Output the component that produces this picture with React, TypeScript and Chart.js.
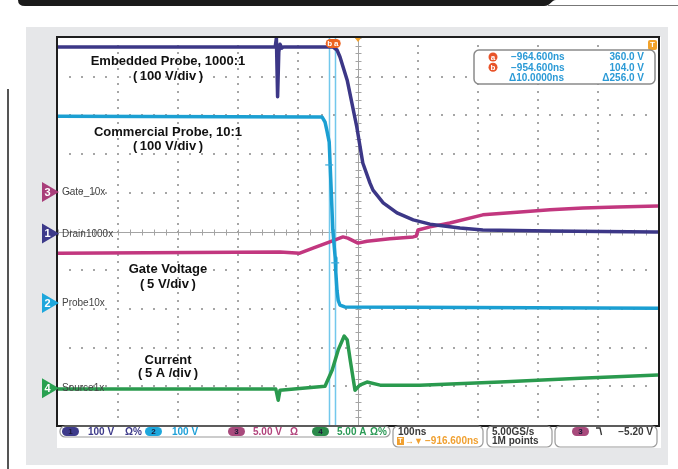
import React, { useEffect, useRef } from "react";
import { Chart, registerables } from "chart.js";
Chart.register(...registerables);

// ---- horizontal / cursor settings (ns) ----
const H_POS_NS = -916.6;
const HALF_SPAN_NS = 500; // 100 ns/div, 10 divisions
const CURSOR_A_NS = -964.6;
const CURSOR_B_NS = -954.6;

// ---- traces: time from screen centre (ns), level in divisions from centre ----
const drainT = [-500, -138, -136, -134, -132, -130, -127, -124, -42, -35, -30, -18, -2, 8, 20, 25, 42, 65, 92, 120, 170, 208, 320, 495, 500];
const drainY = [4.77, 4.77, 5.0, 3.48, 4.64, 4.84, 4.74, 4.77, 4.77, 4.69, 4.51, 3.91, 2.7, 1.77, 1.25, 1.07, 0.74, 0.48, 0.3, 0.19, 0.09, 0.04, 0.01, -0.01, -0.01];

const probeT = [-500, -60, -55, -52, -48, -45, -42, -38, -37, -35, -33, -30, -22, 500];
const probeY = [2.98, 2.96, 2.83, 2.62, 2.31, 1.2, 0.04, -0.68, -1.05, -1.52, -1.78, -1.9, -1.95, -1.98];

const gateT = [-500, -130, -97, -75, -47, -25, -17, 0, 15, 53, 92, 97, 100, 120, 153, 208, 265, 320, 375, 432, 500];
const gateY = [-0.56, -0.53, -0.56, -0.43, -0.27, -0.14, -0.17, -0.3, -0.25, -0.19, -0.14, -0.12, 0.04, 0.12, 0.22, 0.43, 0.5, 0.56, 0.61, 0.63, 0.66];

const sourceT = [-500, -137, -133, -130, -55, -43, -33, -23, -18, -13, -5, 3, 15, 37, 103, 237, 370, 500];
const sourceY = [-4.07, -4.07, -4.36, -4.1, -4.0, -3.58, -3.06, -2.7, -2.8, -3.32, -4.1, -3.97, -3.89, -3.97, -3.97, -3.89, -3.79, -3.71];

// ---- channel reference markers ----
const channelNums = ["3", "1", "2", "4"];
const channelNames = ["Gate_10x", "Drain1000x", "Probe10x", "Source1x"];
const channelLevels = [1.02, -0.05, -1.85, -4.05];
const channelColors = ["#a93e7a", "#3d3a8a", "#1ea7dc", "#28a050"];

// ---- cursor readout ----
const readoutLetters = ["a", "b", ""];
const readoutTimes = ["\u2212964.600ns", "\u2212954.600ns", "\u039410.0000ns"];
const readoutValues = ["360.0 V", "104.0 V", "\u0394256.0 V"];
const cursorMarkLevels = [1.72, -0.81];

// ---- annotations ----
const annotationLines = [
  "Embedded Probe, 1000:1", "(\u2009100 V/div\u2009)",
  "Commercial Probe, 10:1", "(\u2009100 V/div\u2009)",
  "Gate Voltage", "(\u20095 V/div\u2009)",
  "Current", "(\u20095 A /div\u2009)",
];
const annotationLevels = [4.4, 4.01, 2.56, 2.2, -0.99, -1.38, -3.34, -3.68];

// ---- status bar ----
const statusScales = ["100 V", "100 V", "5.00 V", "5.00 A"];
const statusTimebase = "100ns";
const statusPosition = "\u2212916.600ns";
const statusRate = ["5.00GS/s", "1M points"];
const statusTrigger = "\u22125.20 V";

const W = 678;
const H = 469;
const FONT = '"Liberation Sans", Arial, sans-serif';

const mk = (t: number[], y: number[]) => t.map((v, i) => ({ x: H_POS_NS + v, y: y[i] }));

function rr(ctx: CanvasRenderingContext2D, x: number, y: number, w: number, h: number, r: number) {
  ctx.beginPath();
  (ctx as any).roundRect(x, y, w, h, r);
}

const scopePlugin = {
  id: "scope",
  beforeDraw(chart: any) {
    const ctx: CanvasRenderingContext2D = chart.ctx;
    const a = chart.chartArea;
    ctx.save();
    ctx.fillStyle = "#ffffff";
    ctx.fillRect(0, 0, W, H);
    // top black tab
    ctx.fillStyle = "#1a1a1a";
    ctx.beginPath();
    ctx.moveTo(18, 0);
    ctx.lineTo(556, 0);
    ctx.bezierCurveTo(551, 0, 551, 6, 544, 6);
    ctx.lineTo(25, 6);
    ctx.quadraticCurveTo(18, 6, 18, 0);
    ctx.fill();
    ctx.strokeStyle = "#777";
    ctx.lineWidth = 1.2;
    ctx.beginPath();
    ctx.moveTo(548, 5.5);
    ctx.lineTo(678, 5.5);
    ctx.stroke();
    // left rule
    ctx.fillStyle = "#555";
    ctx.fillRect(7, 89, 2, 380);
    // grey panel
    ctx.fillStyle = "#e6e7e9";
    ctx.fillRect(26, 27, 642, 438);
    // white screen area
    ctx.fillStyle = "#ffffff";
    ctx.fillRect(57, 37, 604, 411);
    // graticule dots
    const dx = (a.right - a.left) / 10;
    const dy = (a.bottom - a.top) / 10;
    ctx.fillStyle = "#a6a6a6";
    for (let i = 1; i < 10; i++) {
      if (i === 5) continue;
      const x = Math.round(a.left + i * dx);
      for (let j = 1; j < 50; j++) ctx.fillRect(x - 1, Math.round(a.top + (j * dy) / 5) - 1, 2, 2);
      const y = Math.round(a.top + i * dy);
      for (let j = 1; j < 50; j++) ctx.fillRect(Math.round(a.left + (j * dx) / 5) - 1, y - 1, 2, 2);
    }
    // centre cross with ticks
    const cx = Math.round(a.left + 5 * dx) + 0.5;
    const cy = Math.round(a.top + 5 * dy) + 0.5;
    ctx.strokeStyle = "#a4a4a4";
    ctx.lineWidth = 1;
    ctx.beginPath();
    ctx.moveTo(a.left, cy);
    ctx.lineTo(a.right, cy);
    ctx.moveTo(cx, a.top);
    ctx.lineTo(cx, a.bottom);
    for (let j = 0; j <= 50; j++) {
      const x = Math.round(a.left + (j * dx) / 5) + 0.5;
      ctx.moveTo(x, cy - 3);
      ctx.lineTo(x, cy + 3);
      const y = Math.round(a.top + (j * dy) / 5) + 0.5;
      ctx.moveTo(cx - 3, y);
      ctx.lineTo(cx + 3, y);
    }
    ctx.stroke();
    ctx.restore();
  },
  beforeDatasetsDraw(chart: any) {
    const ctx: CanvasRenderingContext2D = chart.ctx;
    const a = chart.chartArea;
    const xs = chart.scales.x;
    ctx.save();
    ctx.strokeStyle = "#72c8ec";
    ctx.lineWidth = 1.5;
    [CURSOR_A_NS, CURSOR_B_NS].forEach((t) => {
      const x = Math.round(xs.getPixelForValue(t)) + 0.5;
      ctx.beginPath();
      ctx.moveTo(x, a.top);
      ctx.lineTo(x, a.bottom);
      ctx.stroke();
    });
    ctx.restore();
  },
  afterDatasetsDraw(chart: any) {
    const ctx: CanvasRenderingContext2D = chart.ctx;
    const a = chart.chartArea;
    const xs = chart.scales.x;
    const ys = chart.scales.y;
    ctx.save();
    // cursor cross marks
    ctx.strokeStyle = "#3aa8d8";
    ctx.lineWidth = 1.2;
    [CURSOR_A_NS, CURSOR_B_NS].forEach((t, i) => {
      const x = xs.getPixelForValue(t);
      const y = ys.getPixelForValue(cursorMarkLevels[i]);
      ctx.beginPath();
      ctx.moveTo(x - 4, y);
      ctx.lineTo(x + 4, y);
      ctx.stroke();
    });
    // frame
    ctx.strokeStyle = "#1e1e1e";
    ctx.lineWidth = 2;
    ctx.strokeRect(a.left - 1, a.top - 1, a.right - a.left + 2, a.bottom - a.top + 2);

    // cursor label at top
    const xa = xs.getPixelForValue(CURSOR_A_NS);
    ctx.fillStyle = "#ec6422";
    rr(ctx, xa - 3.5, a.top + 1, 15, 9, 4.5);
    ctx.fill();
    ctx.fillStyle = "#fff";
    ctx.font = "bold 8px " + FONT;
    ctx.textBaseline = "middle";
    ctx.textAlign = "center";
    ctx.fillText("b", xa + 0.5, a.top + 5.5);
    ctx.fillText("a", xa + 7, a.top + 5.5);
    // trigger position marker
    const xc = xs.getPixelForValue(H_POS_NS);
    ctx.fillStyle = "#f2a22a";
    ctx.beginPath();
    ctx.moveTo(xc - 3, a.top);
    ctx.lineTo(xc + 3, a.top);
    ctx.lineTo(xc, a.top + 4);
    ctx.fill();
    // T marker top right
    rr(ctx, a.right - 10, a.top + 2, 9, 10, 2);
    ctx.fill();
    ctx.fillStyle = "#fff";
    ctx.font = "bold 8px " + FONT;
    ctx.fillText("T", a.right - 5.5, a.top + 7);

    // readout box
    ctx.fillStyle = "#fff";
    ctx.strokeStyle = "#8a8a8a";
    ctx.lineWidth = 1.5;
    rr(ctx, 474, 50, 181, 34, 5);
    ctx.fill();
    ctx.stroke();
    readoutTimes.forEach((txt, i) => {
      const y = 57 + i * 10.3;
      if (readoutLetters[i]) {
        ctx.fillStyle = "#e8542a";
        ctx.beginPath();
        ctx.arc(493, y, 4.5, 0, Math.PI * 2);
        ctx.fill();
        ctx.fillStyle = "#fff";
        ctx.font = "bold 8px " + FONT;
        ctx.textAlign = "center";
        ctx.fillText(readoutLetters[i], 493, y + 0.5);
      }
      ctx.fillStyle = "#2b9ad6";
      ctx.font = "bold 10px " + FONT;
      ctx.textAlign = "left";
      ctx.fillText(txt, i === 2 ? 509 : 511, y + 0.5);
      ctx.textAlign = "right";
      ctx.fillText(readoutValues[i], 644, y + 0.5);
    });

    // channel markers and names
    channelNums.forEach((n, i) => {
      const y = ys.getPixelForValue(channelLevels[i]);
      ctx.fillStyle = channelColors[i];
      ctx.beginPath();
      ctx.moveTo(42, y - 10);
      ctx.lineTo(59, y);
      ctx.lineTo(42, y + 10);
      ctx.closePath();
      ctx.fill();
      ctx.fillStyle = "#fff";
      ctx.font = "bold 11px " + FONT;
      ctx.textAlign = "center";
      ctx.fillText(n, 47.5, y + 0.5);
      ctx.fillStyle = "#444";
      ctx.font = "10px " + FONT;
      ctx.textAlign = "left";
      ctx.fillText(channelNames[i], 62, y + 0.5);
    });

    // annotations
    ctx.fillStyle = "#111";
    ctx.font = "bold 13px " + FONT;
    ctx.textAlign = "center";
    annotationLines.forEach((txt, i) => {
      ctx.fillText(txt, 168, ys.getPixelForValue(annotationLevels[i]));
    });

    // status bar
    ctx.strokeStyle = "#9a9a9a";
    ctx.lineWidth = 1.2;
    [[60, 426, 330, 11], [393, 426, 90, 21], [487, 426, 65, 21], [555, 426, 102, 21]].forEach((b) => {
      rr(ctx, b[0], b[1], b[2], b[3], 5);
      ctx.stroke();
    });
    const pillX = [62, 145, 228, 312];
    const textX = [88, 172, 253, 337];
    const pillCol = ["#3d3a8a", "#1ea7dc", "#a84a7c", "#2a8a4a"];
    const txtCol = ["#3d3a8a", "#1ea0d8", "#b2437c", "#2a9a55"];
    const nums = ["1", "2", "3", "4"];
    const rowY = 431.5;
    nums.forEach((n, i) => {
      ctx.fillStyle = pillCol[i];
      rr(ctx, pillX[i], rowY - 4.5, 17, 9, 4.5);
      ctx.fill();
      ctx.fillStyle = "#1d1a3a";
      ctx.font = "bold 8px " + FONT;
      ctx.textAlign = "center";
      ctx.fillText(n, pillX[i] + 8.5, rowY + 0.5);
      ctx.fillStyle = txtCol[i];
      ctx.font = "bold 10px " + FONT;
      ctx.textAlign = "left";
      ctx.fillText(statusScales[i], textX[i], rowY + 0.5);
    });
    ctx.font = "bold 10px " + FONT;
    ctx.fillStyle = txtCol[0];
    ctx.fillText("\u03A9%", 125, rowY + 0.5);
    ctx.fillStyle = txtCol[2];
    ctx.fillText("\u03A9", 290, rowY + 0.5);
    ctx.fillStyle = txtCol[3];
    ctx.fillText("\u03A9%", 370, rowY + 0.5);

    ctx.fillStyle = "#3a3a3a";
    ctx.fillText(statusTimebase, 398, rowY + 0.5);
    ctx.fillText(statusRate[0], 492, rowY + 0.5);
    ctx.fillText(statusRate[1], 492, 441.5);
    // position row
    ctx.fillStyle = "#f0a030";
    ctx.fillRect(397, 437, 7, 8);
    ctx.fillStyle = "#fff";
    ctx.font = "bold 7px " + FONT;
    ctx.textAlign = "center";
    ctx.fillText("T", 400.5, 441.5);
    ctx.fillStyle = "#f0a030";
    ctx.font = "bold 9px " + FONT;
    ctx.textAlign = "left";
    ctx.fillText("\u2192\u25BC", 405, 441.5);
    ctx.font = "bold 10px " + FONT;
    ctx.fillText(statusPosition, 425, 441.5);
    // trigger box
    ctx.fillStyle = "#a84a7c";
    rr(ctx, 572, rowY - 4.5, 17, 9, 4.5);
    ctx.fill();
    ctx.fillStyle = "#1d1a3a";
    ctx.font = "bold 8px " + FONT;
    ctx.textAlign = "center";
    ctx.fillText("3", 580.5, rowY + 0.5);
    ctx.strokeStyle = "#333";
    ctx.lineWidth = 1.3;
    ctx.beginPath();
    ctx.moveTo(596, 428);
    ctx.lineTo(600, 428);
    ctx.lineTo(601.5, 435);
    ctx.stroke();
    ctx.fillStyle = "#3a3a3a";
    ctx.font = "bold 10px " + FONT;
    ctx.textAlign = "right";
    ctx.fillText(statusTrigger, 653, rowY + 0.5);
    ctx.restore();
  },
};

export default function App() {
  const ref = useRef<HTMLCanvasElement | null>(null);
  useEffect(() => {
    if (!ref.current) return;
    const chart = new Chart(ref.current, {
      type: "line",
      data: {
        datasets: [
          { label: "Drain1000x", data: mk(drainT, drainY), borderColor: "#3c3787", borderWidth: 3.5 },
          { label: "Probe10x", data: mk(probeT, probeY), borderColor: "#1b9fd2", borderWidth: 3.5 },
          { label: "Source1x", data: mk(sourceT, sourceY), borderColor: "#2a9a4e", borderWidth: 3.5 },
          { label: "Gate_10x", data: mk(gateT, gateY), borderColor: "#c2377f", borderWidth: 3.5 },
        ],
      },
      options: {
        responsive: false,
        animation: false,
        devicePixelRatio: 1,
        layout: { padding: { left: 58, top: 38, right: 20, bottom: 44 } },
        elements: {
          point: { radius: 0 },
          line: { tension: 0, borderJoinStyle: "round", borderCapStyle: "butt" },
        },
        scales: {
          x: { type: "linear", min: H_POS_NS - HALF_SPAN_NS, max: H_POS_NS + HALF_SPAN_NS, display: false },
          y: { type: "linear", min: -5, max: 5, display: false },
        },
        plugins: { legend: { display: false }, tooltip: { enabled: false } },
      } as any,
      plugins: [scopePlugin],
    });
    return () => chart.destroy();
  }, []);
  return (
    <div style={{ position: "absolute", left: 0, top: 0, width: W, height: H }}>
      <canvas ref={ref} width={W} height={H} style={{ display: "block" }} />
    </div>
  );
}
